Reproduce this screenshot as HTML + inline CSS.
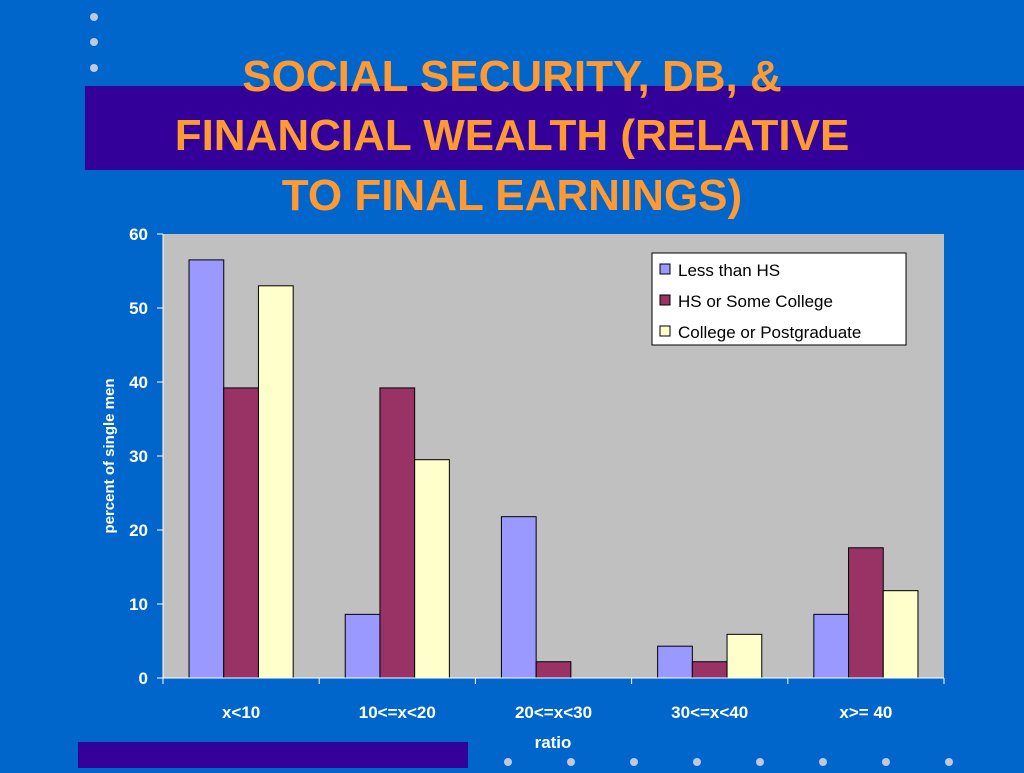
<!DOCTYPE html>
<html><head><meta charset="utf-8"><style>
body{margin:0;width:1024px;height:768px;overflow:hidden;background:#0066cc;font-family:"Liberation Sans",sans-serif}
</style></head><body>
<svg width="1024" height="768">
<rect x="85" y="86" width="939" height="84" fill="#330099"/>
<rect x="78" y="742" width="390" height="26" fill="#330099"/>
<g fill="#c0c8e0">
<circle cx="94" cy="17" r="4"/><circle cx="94" cy="42" r="4"/><circle cx="94" cy="68" r="4"/>
</g>
<g id="bdots" fill="#c0c8e0"></g>
<g fill="#ff9933" font-weight="bold" font-size="44" text-anchor="middle">
<text x="512" y="91">SOCIAL SECURITY, DB, &amp;</text>
<text x="512" y="150">FINANCIAL WEALTH (RELATIVE</text>
<text x="512" y="210">TO  FINAL EARNINGS)</text>
</g>
<rect x="163" y="234" width="781" height="444" fill="#c0c0c0"/>
<g id="chart"></g>
<text x="114" y="456" fill="#fff" font-size="15" font-weight="bold" text-anchor="middle" transform="rotate(-90 114 456)">percent of single men</text>
<text x="553" y="748" fill="#fff" font-size="17" font-weight="bold" text-anchor="middle">ratio</text>
<g>
<rect x="652" y="253" width="254" height="92" fill="#fff" stroke="#000"/>
<rect x="660" y="264" width="10" height="10" fill="#9999ff" stroke="#000"/>
<text x="678" y="276" font-size="17">Less than HS</text>
<rect x="660" y="295" width="10" height="10" fill="#993366" stroke="#000"/>
<text x="678" y="307" font-size="17">HS or Some College</text>
<rect x="660" y="326" width="10" height="10" fill="#ffffcc" stroke="#000"/>
<text x="678" y="338" font-size="17">College or Postgraduate</text>
</g>
</svg>
<script>
const categories=["x<10","10<=x<20","20<=x<30","30<=x<40","x>= 40"];
const lessHS=[56.5,8.6,21.8,4.3,8.6];
const hsSome=[39.2,39.2,2.2,2.2,17.6];
const college=[53,29.5,0,5.9,11.8];
const yTicks=[0,10,20,30,40,50,60];
const ns="http://www.w3.org/2000/svg";
const L=163,R=944,T=234,B=678;
const y=v=>B-(v/60)*(B-T);
const cw=(R-L)/categories.length, bw=cw/4.5;
const g=document.getElementById('chart');
function mk(t,a){const e=document.createElementNS(ns,t);for(const k in a)e.setAttribute(k,a[k]);g.appendChild(e);return e;}
const series=[[lessHS,"#9999ff","less-than-hs"],[hsSome,"#993366","hs-some-college"],[college,"#ffffcc","college-postgrad"]];
series.forEach((s,si)=>{s[0].forEach((v,i)=>{const x=L+i*cw+bw*0.75+si*bw;
const r=mk('rect',{x:x,y:y(v),width:bw,height:B-y(v),fill:s[1],stroke:"#000","stroke-width":1});

});});
mk('line',{x1:L,y1:T,x2:L,y2:B,stroke:"#fff","stroke-width":1});
mk('line',{x1:L,y1:B,x2:R,y2:B,stroke:"#fff","stroke-width":1});
yTicks.forEach(t=>{mk('line',{x1:L-6,y1:y(t),x2:L,y2:y(t),stroke:"#fff"});
const tx=mk('text',{x:L-15,y:y(t)+6,fill:"#fff","font-size":17,"font-weight":"bold","text-anchor":"end"});tx.textContent=t;

});
categories.forEach((c,i)=>{mk('line',{x1:L+i*cw,y1:B,x2:L+i*cw,y2:B+6,stroke:"#fff"});
const tx=mk('text',{x:L+(i+0.5)*cw,y:718,fill:"#fff","font-size":17,"font-weight":"bold","text-anchor":"middle"});tx.textContent=c;

});
mk('line',{x1:R,y1:B,x2:R,y2:B+6,stroke:"#fff"});
const bd=document.getElementById('bdots');
for(let i=0;i<8;i++){const c=document.createElementNS(ns,'circle');c.setAttribute('cx',508+i*63);c.setAttribute('cy',762);c.setAttribute('r',4);bd.appendChild(c);}
</script>
</body></html>
